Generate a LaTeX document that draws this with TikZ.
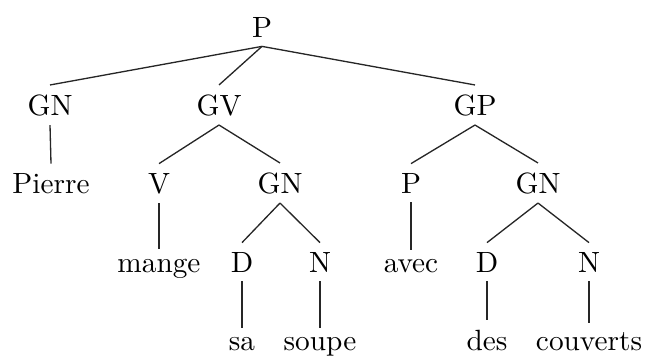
\documentclass[tikz,border=0pt]{standalone}
\begin{document}
\begin{tikzpicture}[x=0.3413pt,y=-0.3413pt,
  lbl/.style={anchor=base,inner sep=3pt},
  edge/.style={draw=black!85,line width=0.45pt}]
\useasboundingbox (0,0) rectangle (647,356);
% level 0
\node[lbl] (s) at (262,37) {P};
% level 1
\node[lbl] (gn1) at (50,115) {GN};
\node[lbl] (gv) at (219,115) {GV};
\node[lbl] (gp) at (475,115) {GP};
% level 2
\node[lbl] (pierre) at (51,193) {Pierre};
\node[lbl] (v) at (159,193) {V};
\node[lbl] (gn2) at (280,193) {GN};
\node[lbl] (prep) at (411,193) {P};
\node[lbl] (gn3) at (538,193) {GN};
% level 3
\node[lbl] (mange) at (159,272) {mange};
\node[lbl] (d1) at (242,272) {D};
\node[lbl] (n1) at (320,272) {N};
\node[lbl] (avec) at (411,272) {avec};
\node[lbl] (d2) at (487,272) {D};
\node[lbl] (n2) at (589,272) {N};
% level 4
\node[lbl] (sa) at (242,350) {sa};
\node[lbl] (soupe) at (320,350) {soupe};
\node[lbl] (des) at (487,350) {des};
\node[lbl] (couverts) at (589,350) {couverts};
% branches
\foreach \a/\b in {s/gn1,s/gv,s/gp,gn1/pierre,gv/v,gv/gn2,gp/prep,gp/gn3,
  v/mange,gn2/d1,gn2/n1,prep/avec,gn3/d2,gn3/n2,d1/sa,n1/soupe,d2/des,n2/couverts}
  \draw[edge] (\a.south) -- (\b.north);
\end{tikzpicture}
\end{document}
